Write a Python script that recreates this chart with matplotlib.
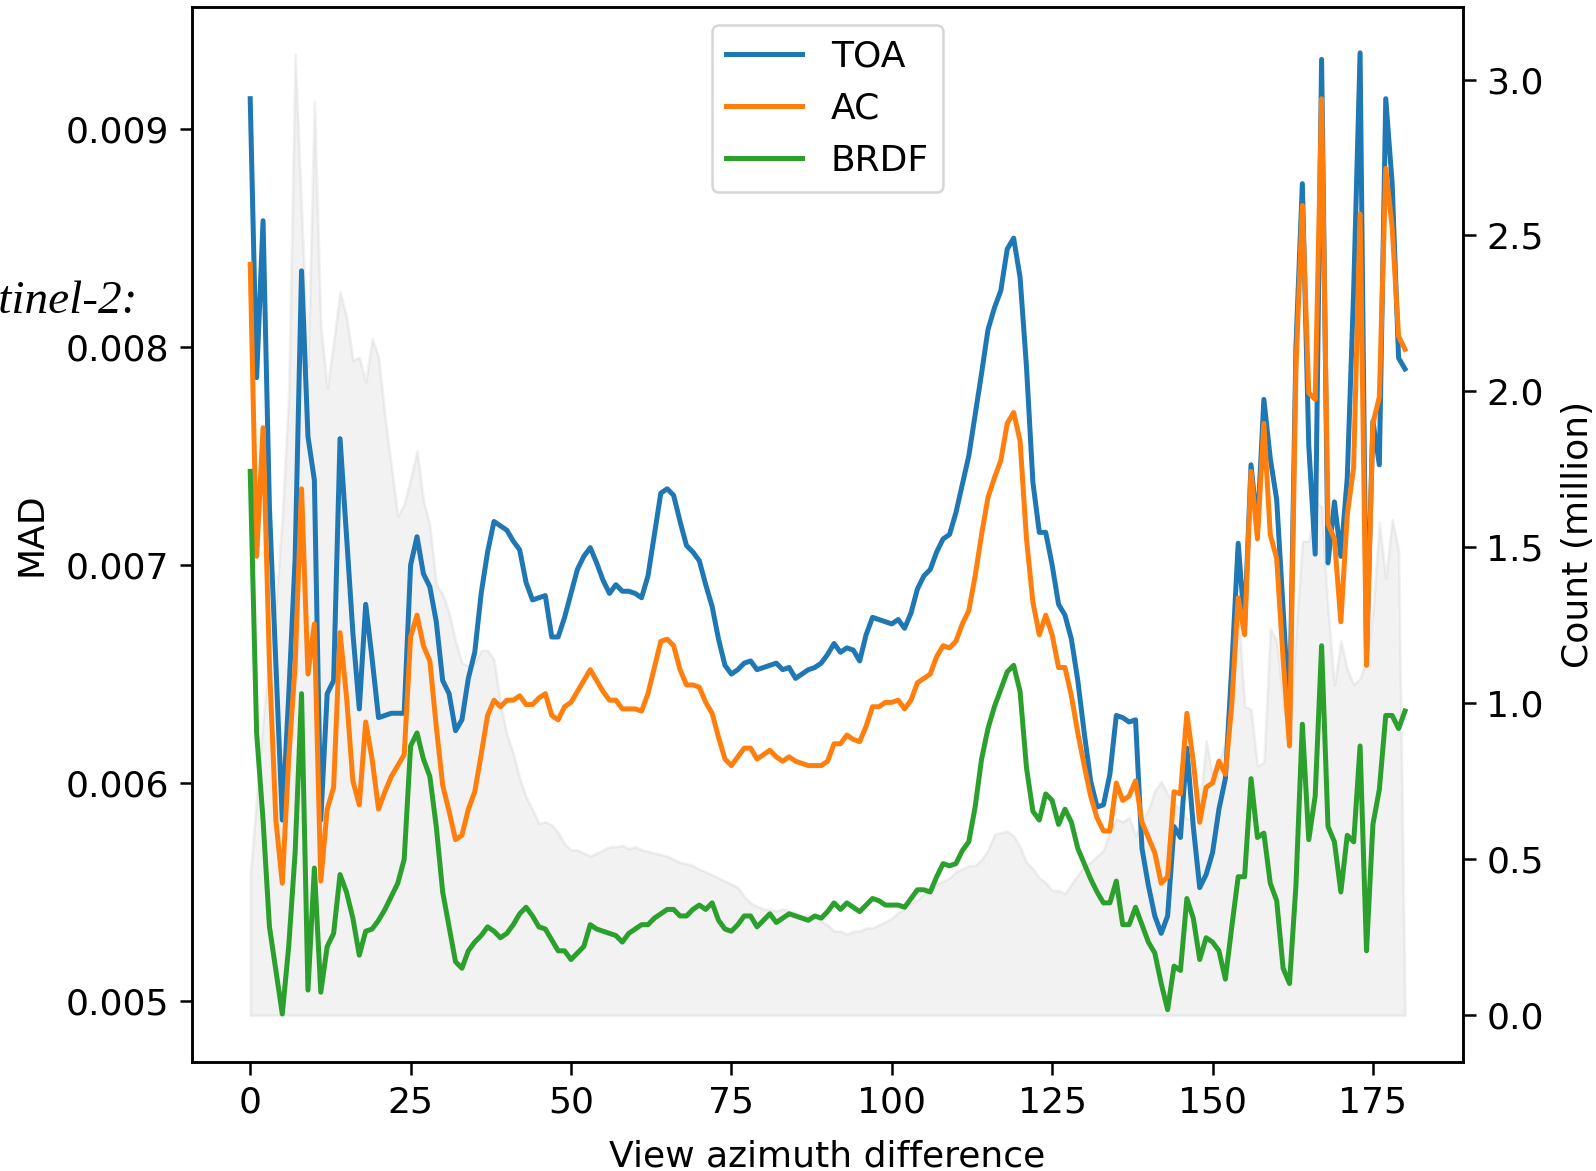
import numpy as np
import matplotlib
matplotlib.use("Agg")
import matplotlib.pyplot as plt

# View azimuth difference (degrees, 1-degree bins 0..180)
vaz = np.arange(0, 181)

# MAD values, in units of 1e-4
toa = [91.4, 78.6, 85.8, 72.6, 65.4, 58.3, 64.0, 70.3, 83.5, 75.9,
       73.9, 58.3, 64.1, 64.7, 75.8, 71.4, 66.9, 63.4, 68.2, 65.7,
       63.0, 63.1, 63.2, 63.2, 63.2, 70.0, 71.3, 69.6, 69.0, 67.4,
       64.7, 64.1, 62.4, 62.9, 64.8, 66.0, 68.7, 70.6, 72.0, 71.8,
       71.6, 71.1, 70.7, 69.2, 68.4, 68.5, 68.6, 66.7, 66.7, 67.6,
       68.7, 69.8, 70.4, 70.8, 70.1, 69.3, 68.7, 69.1, 68.8, 68.8,
       68.7, 68.5, 69.5, 71.4, 73.3, 73.5, 73.2, 72.0, 70.9, 70.6,
       70.2, 69.1, 68.1, 66.6, 65.4, 65.0, 65.2, 65.5, 65.6, 65.2,
       65.3, 65.4, 65.5, 65.2, 65.3, 64.8, 65.0, 65.2, 65.3, 65.5,
       65.9, 66.4, 66.0, 66.2, 66.1, 65.6, 66.8, 67.6, 67.5, 67.4,
       67.3, 67.5, 67.1, 67.8, 68.9, 69.5, 69.8, 70.6, 71.2, 71.4,
       72.4, 73.7, 75.0, 76.9, 78.8, 80.8, 81.8, 82.6, 84.5, 85.0,
       83.2, 79.1, 73.8, 71.5, 71.5, 70.0, 68.2, 67.7, 66.6, 64.7,
       62.3, 60.1, 58.9, 59.0, 60.4, 63.1, 63.0, 62.8, 62.9, 57.0,
       55.3, 53.9, 53.1, 53.9, 58.0, 57.5, 61.6, 58.0, 55.2, 55.8,
       56.8, 58.8, 60.2, 65.3, 71.0, 67.2, 74.6, 71.7, 77.6, 74.9,
       73.0, 68.0, 62.8, 80.0, 87.5, 75.5, 70.5, 93.2, 70.1, 72.9,
       70.4, 74.0, 82.6, 93.5, 65.8, 76.6, 74.6, 91.4, 87.5, 79.5,
       79.0]

ac = [83.8, 70.4, 76.3, 65.4, 58.3, 55.4, 61.1, 65.4, 73.5, 65.0,
      67.3, 55.5, 58.8, 59.8, 66.9, 64.0, 60.1, 59.0, 62.8, 61.1,
      58.8, 59.6, 60.3, 60.8, 61.3, 66.7, 67.7, 66.3, 65.6, 62.6,
      59.9, 58.7, 57.4, 57.6, 58.8, 59.6, 61.3, 63.1, 63.8, 63.5,
      63.8, 63.8, 64.0, 63.6, 63.6, 63.9, 64.1, 63.1, 62.9, 63.5,
      63.7, 64.2, 64.7, 65.2, 64.7, 64.2, 63.8, 63.8, 63.4, 63.4,
      63.4, 63.3, 64.1, 65.3, 66.5, 66.6, 66.3, 65.2, 64.5, 64.5,
      64.4, 63.7, 63.2, 62.1, 61.1, 60.8, 61.2, 61.6, 61.6, 61.1,
      61.3, 61.5, 61.2, 61.0, 61.2, 61.0, 60.9, 60.8, 60.8, 60.8,
      61.0, 61.8, 61.8, 62.2, 62.0, 61.9, 62.6, 63.5, 63.5, 63.7,
      63.7, 63.8, 63.4, 63.8, 64.6, 64.8, 65.0, 65.8, 66.3, 66.2,
      66.5, 67.3, 67.9, 69.5, 71.4, 73.1, 74.0, 74.8, 76.5, 77.0,
      75.7, 71.2, 68.3, 66.8, 67.7, 66.8, 65.3, 65.3, 64.0, 62.3,
      60.8, 59.4, 58.4, 57.8, 57.8, 60.0, 59.2, 59.4, 60.1, 58.2,
      57.5, 56.8, 55.4, 55.7, 59.6, 59.5, 63.2, 61.0, 58.2, 59.8,
      60.0, 61.0, 60.4, 63.6, 68.5, 66.8, 74.3, 71.2, 76.5, 71.4,
      70.3, 65.7, 61.7, 79.0, 86.5, 77.9, 77.6, 91.4, 71.9, 71.2,
      67.4, 72.3, 74.5, 86.1, 65.4, 76.5, 77.7, 88.2, 85.5, 80.5,
      79.9]

brdf = [74.3, 62.3, 58.3, 53.4, 51.4, 49.4, 52.5, 56.8, 64.1, 50.5,
        56.1, 50.4, 52.5, 53.1, 55.8, 55.0, 53.8, 52.1, 53.2, 53.3,
        53.7, 54.2, 54.8, 55.4, 56.5, 61.7, 62.3, 61.1, 60.3, 58.0,
        55.0, 53.4, 51.8, 51.5, 52.3, 52.7, 53.0, 53.4, 53.2, 52.9,
        53.1, 53.5, 54.0, 54.3, 53.9, 53.4, 53.3, 52.8, 52.3, 52.3,
        51.9, 52.2, 52.5, 53.5, 53.3, 53.2, 53.1, 53.0, 52.7, 53.1,
        53.3, 53.5, 53.5, 53.8, 54.0, 54.2, 54.2, 53.9, 53.9, 54.2,
        54.4, 54.2, 54.5, 53.7, 53.3, 53.2, 53.5, 53.9, 53.9, 53.4,
        53.7, 54.0, 53.6, 53.8, 54.0, 53.9, 53.8, 53.7, 53.9, 53.8,
        54.1, 54.5, 54.2, 54.5, 54.3, 54.1, 54.4, 54.7, 54.6, 54.4,
        54.4, 54.4, 54.3, 54.7, 55.1, 55.1, 55.0, 55.7, 56.3, 56.2,
        56.3, 56.9, 57.3, 58.9, 61.1, 62.5, 63.5, 64.3, 65.1, 65.4,
        64.2, 60.7, 58.7, 58.3, 59.5, 59.2, 58.1, 58.8, 58.2, 57.0,
        56.3, 55.6, 55.0, 54.5, 54.5, 55.5, 53.5, 53.5, 54.3, 53.5,
        52.7, 52.2, 50.8, 49.6, 51.6, 51.4, 54.7, 53.8, 51.9, 52.9,
        52.7, 52.3, 51.0, 53.4, 55.7, 55.7, 60.2, 57.5, 57.7, 55.4,
        54.6, 51.5, 50.8, 55.3, 62.7, 57.4, 59.4, 66.3, 58.0, 57.3,
        55.0, 57.6, 57.3, 61.7, 52.3, 58.1, 59.7, 63.1, 63.1, 62.5,
        63.3]

# number of observations per bin (million)
count = [0.45, 0.70, 0.95, 1.15, 1.32, 1.60, 2.00, 3.08, 2.58, 2.08,
         2.93, 2.21, 2.01, 2.16, 2.32, 2.24, 2.10, 2.11, 2.03, 2.17,
         2.11, 1.92, 1.76, 1.60, 1.64, 1.72, 1.81, 1.65, 1.57, 1.38,
         1.35, 1.29, 1.20, 1.13, 1.12, 1.13, 1.17, 1.17, 1.14, 1.00,
         0.90, 0.84, 0.76, 0.70, 0.66, 0.615, 0.62, 0.61, 0.585, 0.55,
         0.53, 0.53, 0.52, 0.51, 0.52, 0.53, 0.54, 0.54, 0.545, 0.534,
         0.54, 0.53, 0.526, 0.52, 0.515, 0.51, 0.50, 0.49, 0.486, 0.48,
         0.468, 0.46, 0.45, 0.44, 0.43, 0.42, 0.41, 0.38, 0.36, 0.35,
         0.34, 0.34, 0.335, 0.34, 0.335, 0.33, 0.32, 0.32, 0.32, 0.30,
         0.29, 0.27, 0.27, 0.26, 0.27, 0.27, 0.28, 0.28, 0.29, 0.30,
         0.31, 0.33, 0.34, 0.36, 0.37, 0.39, 0.40, 0.42, 0.43, 0.44,
         0.46, 0.47, 0.48, 0.48, 0.50, 0.53, 0.58, 0.585, 0.59, 0.576,
         0.54, 0.49, 0.47, 0.44, 0.425, 0.40, 0.40, 0.39, 0.42, 0.45,
         0.48, 0.49, 0.51, 0.53, 0.59, 0.63, 0.62, 0.635, 0.576, 0.62,
         0.66, 0.72, 0.75, 0.71, 0.68, 0.66, 0.63, 0.63, 0.66, 0.88,
         0.77, 0.81, 0.88, 1.21, 1.31, 0.99, 0.98, 0.80, 0.81, 1.24,
         1.20, 1.01, 0.88, 1.23, 1.52, 1.52, 1.65, 1.63, 1.30, 1.06,
         1.20, 1.11, 1.06, 1.08, 1.14, 1.30, 1.58, 1.40, 1.59, 1.49,
         0.02]

series = {"TOA": toa, "AC": ac, "BRDF": brdf}
colors = {"TOA": "#1f77b4", "AC": "#ff7f0e", "BRDF": "#2ca02c"}

plt.rcParams["font.family"] = "DejaVu Sans"
plt.rcParams["font.size"] = 26

fig = plt.figure(figsize=(15.96, 11.71), dpi=100)
ax = fig.add_axes([0.1206, 0.0931, 0.7959, 0.9008])
ax2 = ax.twinx()

# counts as a light grey area on the right axis
ax2.fill_between(vaz, 0, count, color="grey", alpha=0.1, linewidth=2)
ax2.set_ylim(-0.15, 3.232)
ax2.set_ylabel("Count (million)", labelpad=12)

for name, vals in series.items():
    ax.plot(vaz, np.array(vals) * 1e-4, color=colors[name], linewidth=3.6, label=name)

ax.set_xlim(-9, 189)
ax.set_ylim(0.00472, 0.00956)
ax.set_yticks([0.005, 0.006, 0.007, 0.008, 0.009])
ax.set_xticks([0, 25, 50, 75, 100, 125, 150, 175])
ax.set_xlabel("View azimuth difference", labelpad=14)
ax.set_ylabel("MAD", labelpad=12)

ax.set_zorder(ax2.get_zorder() + 1)
ax.patch.set_visible(False)

for a in (ax, ax2):
    a.tick_params(length=9, width=1.8, pad=8)
    for sp in a.spines.values():
        sp.set_linewidth(1.8)

leg = ax.legend(loc="upper center", handlelength=2.1, borderpad=0.4,
                labelspacing=0.5, handletextpad=0.8, framealpha=0.8)
leg.get_frame().set_linewidth(1.8)

# leftover caption from the neighbouring panel, cut by the crop
fig.text(0.0865, 0.7327, "Sentinel-2:", ha="right", va="baseline",
         fontsize=34, fontstyle="italic", family="Liberation Serif")

fig.savefig("out.png", dpi=100)
